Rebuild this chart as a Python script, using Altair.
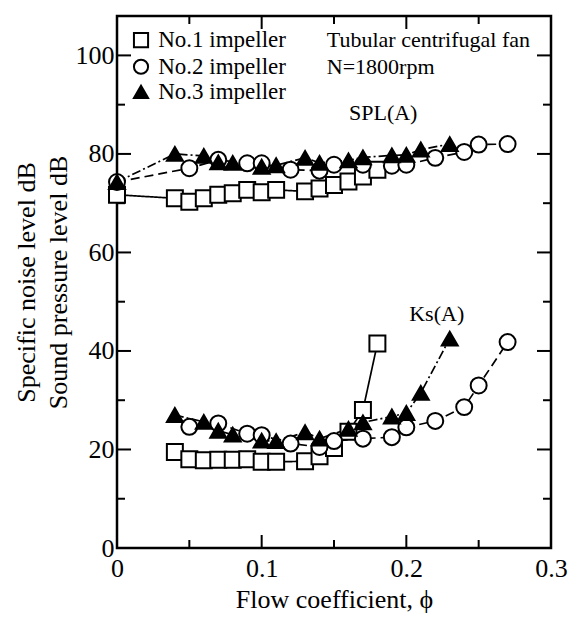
import altair as alt
import pandas as pd

# ---- data ----
impellers = ["No.1 impeller", "No.2 impeller", "No.3 impeller"]

phi_no1 = [0.0, 0.04, 0.05, 0.06, 0.07, 0.08, 0.09, 0.10, 0.11, 0.13, 0.14, 0.15, 0.16, 0.17, 0.18]
spl_no1 = [71.7, 71.0, 70.3, 71.0, 71.7, 72.0, 72.7, 72.2, 72.7, 72.4, 73.0, 73.7, 74.4, 75.4, 76.8]
ks_no1 = [None, 19.5, 18.0, 17.8, 17.9, 17.9, 18.0, 17.5, 17.5, 17.6, 18.6, 20.3, 23.6, 28.0, 41.5]

phi_no2 = [0.0, 0.05, 0.07, 0.09, 0.10, 0.12, 0.14, 0.15, 0.17, 0.19, 0.20, 0.22, 0.24, 0.25, 0.27]
spl_no2 = [74.3, 77.1, 78.8, 78.1, 78.1, 76.8, 76.6, 77.8, 77.8, 77.6, 77.8, 79.2, 80.4, 81.9, 82.0]
ks_no2 = [None, 24.6, 25.3, 23.2, 22.9, 21.2, 20.5, 21.7, 22.2, 22.5, 24.5, 25.8, 28.6, 33.0, 41.8]

phi_no3 = [0.0, 0.04, 0.06, 0.07, 0.08, 0.10, 0.11, 0.13, 0.14, 0.16, 0.17, 0.19, 0.20, 0.21, 0.23]
spl_no3 = [74.3, 80.0, 79.6, 78.3, 78.2, 77.4, 77.7, 79.2, 78.2, 78.7, 79.3, 79.7, 79.8, 80.9, 82.0]
ks_no3 = [None, 27.0, 25.6, 23.8, 23.0, 21.8, 21.7, 23.5, 22.2, 24.2, 25.5, 26.7, 27.4, 31.5, 42.5]

x_labels = [0, 0.1, 0.2, 0.3]
y_labels = [0, 20, 40, 60, 80, 100]
x_major = [0.1, 0.2]
x_minor = [0.05, 0.15, 0.25]
y_major = [20, 40, 60, 80, 100]
y_minor = [10, 30, 50, 70, 90]

ann_text = ["Tubular centrifugal fan", "N=1800rpm", "SPL(A)", "Ks(A)"]
ann_phi = [0.145, 0.145, 0.184, 0.221]
ann_val = [103.1, 97.7, 88.3, 47.6]

# legend rows (placed in data space inside the frame)
leg_val = [103.1, 97.7, 92.6]
leg_sym_phi = 0.0166
leg_txt_phi = 0.0285

# ---- build table ----
rows = []
for name, phis, spl, ks in [
    (impellers[0], phi_no1, spl_no1, ks_no1),
    (impellers[1], phi_no2, spl_no2, ks_no2),
    (impellers[2], phi_no3, spl_no3, ks_no3),
]:
    for p, s, k in zip(phis, spl, ks):
        rows.append(dict(impeller=name, phi=p, value=s, kind="SPL"))
        if k is not None:
            rows.append(dict(impeller=name, phi=p, value=k, kind="Ks"))
df = pd.DataFrame(rows)
df["series"] = df["impeller"] + " " + df["kind"]

leg_df = pd.DataFrame({"impeller": impellers, "value": leg_val,
                       "phi": [leg_sym_phi] * 3})
leg_txt_df = pd.DataFrame({"impeller": impellers, "value": leg_val,
                           "phi": [leg_txt_phi] * 3})

W, H = 434, 532
FONT = "Liberation Serif"

xscale = alt.Scale(domain=[0, 0.3], nice=False, zero=False)
yscale = alt.Scale(domain=[0, 108], nice=False, zero=False)

xaxis = alt.Axis(values=x_labels, format="~g", title="Flow coefficient,  ϕ",
                 ticks=False, domain=False, grid=False, labelFlush=False,
                 labelOverlap=False, labelPadding=7, labelFont=FONT,
                 labelFontSize=26, labelColor="black", titleFont=FONT,
                 titleFontSize=26, titleFontWeight="normal", titleColor="black",
                 titlePadding=5)
yaxis = alt.Axis(values=y_labels, title=["Specific noise level dB", "Sound pressure level dB"],
                 ticks=False, domain=False, grid=False, labelOverlap=False,
                 labelPadding=3, labelFont=FONT, labelFontSize=26,
                 labelColor="black", titleFont=FONT, titleFontSize=26,
                 titleFontWeight="normal", titleColor="black", titlePadding=4,
                 titleLineHeight=32)

X = alt.X("phi:Q", scale=xscale, axis=xaxis)
Y = alt.Y("value:Q", scale=yscale, axis=yaxis)

shape_scale = alt.Scale(domain=impellers, range=["square", "circle", "triangle-up"])
fill_scale = alt.Scale(domain=impellers, range=["white", "white", "black"])

lines = alt.Chart(df).mark_line(color="black", strokeWidth=1.7).encode(
    x=X, y=Y, detail="series:N",
    strokeDash=alt.StrokeDash("impeller:N", legend=None,
                              scale=alt.Scale(domain=impellers,
                                              range=[[1, 0], [9, 5], [9, 3, 2, 3]])),
)

points = alt.Chart(df).mark_point(filled=True, stroke="black", strokeWidth=2, size=255, opacity=1).encode(
    x=X, y=Y,
    shape=alt.Shape("impeller:N", scale=shape_scale, legend=None),
    fill=alt.Fill("impeller:N", scale=fill_scale, legend=None),
)

leg_sym = alt.Chart(leg_df).mark_point(filled=True, stroke="black", strokeWidth=2, size=200, opacity=1).encode(
    x=X, y=Y,
    shape=alt.Shape("impeller:N", scale=shape_scale, legend=None),
    fill=alt.Fill("impeller:N", scale=fill_scale, legend=None),
)
leg_txt = alt.Chart(leg_txt_df).mark_text(font=FONT, fontSize=23, color="black",
                                          align="left", baseline="middle").encode(
    x=X, y=Y, text="impeller:N")

ann_df = pd.DataFrame({"text": ann_text, "phi": ann_phi, "value": ann_val})
ann_left = alt.Chart(ann_df.iloc[:2]).mark_text(font=FONT, fontSize=22, color="black",
                                                align="left", baseline="middle").encode(
    x=X, y=Y, text="text:N")
ann_center = alt.Chart(ann_df.iloc[2:]).mark_text(font=FONT, fontSize=22, color="black",
                                                  align="center", baseline="middle").encode(
    x=X, y=Y, text="text:N")

# inward ticks on all four sides
def xt(vals, length):
    d = pd.DataFrame({"phi": vals})
    bottom = alt.Chart(d).mark_rule(color="black", strokeWidth=2).encode(
        x=X, y=alt.value(H), y2=alt.value(H - length))
    top = alt.Chart(d).mark_rule(color="black", strokeWidth=2).encode(
        x=X, y=alt.value(0), y2=alt.value(length))
    return [bottom, top]

def yt(vals, length):
    d = pd.DataFrame({"value": vals})
    left = alt.Chart(d).mark_rule(color="black", strokeWidth=2).encode(
        y=Y, x=alt.value(0), x2=alt.value(length))
    right = alt.Chart(d).mark_rule(color="black", strokeWidth=2).encode(
        y=Y, x=alt.value(W), x2=alt.value(W - length))
    return [left, right]

ticks = xt(x_major, 13) + xt(x_minor, 8) + yt(y_major, 14) + yt(y_minor, 8)

chart = alt.layer(*ticks, lines, points, leg_sym, leg_txt, ann_left, ann_center).properties(
    width=W, height=H, autosize="none",
    padding={"left": 117, "top": 16, "right": 33, "bottom": 73},
    background="white",
).configure_view(stroke="black", strokeWidth=2.5)

chart.save("out.html", embed_options={"renderer": "svg", "actions": False})
